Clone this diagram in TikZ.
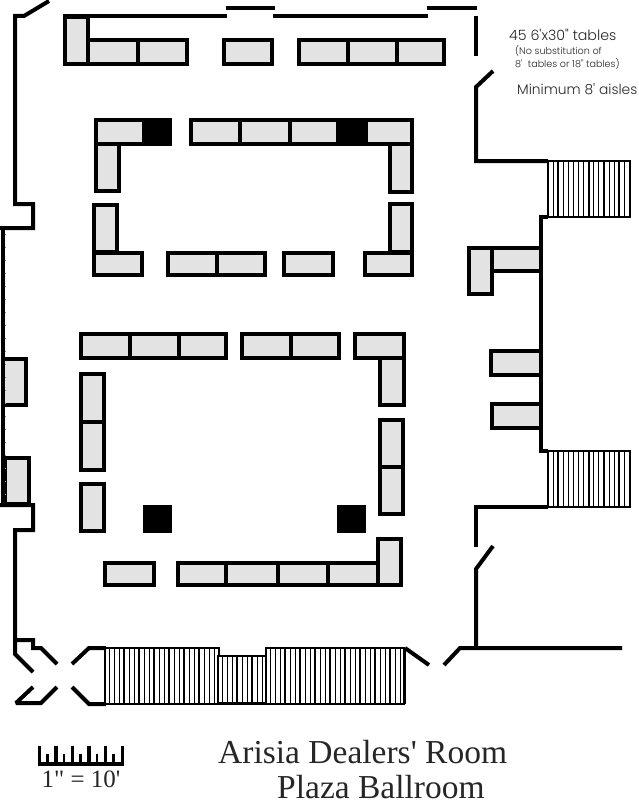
\documentclass[tikz,border=0pt]{standalone}
\usepackage{fontspec}
\newfontfamily\ser{Liberation Serif}
\newfontfamily\geo[UprightFont=* Light]{Poppins}
\tikzset{
  tbl/.style={draw=black,line width=4.2pt,fill=tablegray,line join=miter},
  pillar/.style={fill=black},
  wall/.style={draw=black,line width=4pt,line join=miter,miter limit=2,line cap=butt},
  thinwall/.style={draw=black,line width=2pt},
  tread/.style={draw=black,line width=1pt},
  title/.style={text=black!85,font=\ser\fontsize{33.5}{33.5}\selectfont,inner sep=0pt,anchor=base west},
  note/.style={text=black!85,inner sep=0pt,anchor=west},
}
\definecolor{tablegray}{HTML}{E3E3E3}
\begin{document}
\begin{tikzpicture}[x=1pt,y=-1pt]
\useasboundingbox (0,0) rectangle (639,800);
% tables
\foreach \a/\b/\c/\d in {
  65/17/88/64, 88/40/138/64, 138/40/187/64, 224/40/272/64, 299/40/348/64, 348/40/397/64, 397/40/444/64,
  96/120/144/144, 191/120/240/144, 240/120/290/144, 290/120/338/144, 366/120/412/144,
  96/144/119/191, 390/144/412/192, 94/205/117/252, 390/204/412/252,
  94/253/142/275, 168/253/217/275, 217/253/265/275, 284/253/333/275, 365/253/412/275,
  469/248/492/294, 492/248/541/271, 491/351/541/375, 492/404/541/428,
  81/334/130/358, 130/334/179/358, 179/334/226/358, 242/334/291/358, 291/334/339/358, 355/334/404/358,
  380/358/404/405, 380/420/403/467, 380/467/403/514,
  81/374/104/422, 81/422/104/470, 81/484/104/531,
  3/359/26/405, 5/458/29/504,
  105/563/154/585, 178/563/226/585, 226/563/278/585, 278/563/328/585, 328/563/378/585, 378/539/401/585}
  \draw[tbl] (\a,\b) rectangle (\c,\d);
% pillars
\foreach \a/\b in {143/118, 338/118, 143/505, 337/505}
  \fill[pillar] (\a,\b) rectangle ++(29,28);
% walls
\draw[wall] (49,1) -- (24,16) -- (15,16) -- (15,204) -- (33,204) -- (33,228) -- (0,228);
\draw[wall] (0,505) -- (33,505) -- (33,530) -- (15,530) -- (15,654) -- (33,672);
\draw[wall] (15,640) -- (33,640) -- (33,648) -- (41,648) -- (57,664);
\draw[wall] (33,687) -- (16,703) -- (41,703) -- (57,687);
\draw[wall] (72,664) -- (89,648) -- (106,648);
\draw[wall] (72,687) -- (89,704) -- (106,704);
\draw[wall] (63,16) -- (227,16);
\draw[wall] (226,8) -- (275,8);
\draw[wall] (273,16) -- (428,16);
\draw[wall] (427,8) -- (477,8);
\draw[wall] (476,16) -- (476,56);
\draw[wall] (493,71) -- (476,87) -- (476,161) -- (548,161);
\draw[wall] (548,217) -- (541,217) -- (541,451) -- (548,451);
\draw[wall] (548,507) -- (476,507) -- (476,547);
\draw[wall] (493,546) -- (476,569) -- (476,648);
\draw[wall] (622,648) -- (460,648) -- (444,665);
\draw[wall] (405,648) -- (429,665);
% left edge
\draw[wall] (3,228) -- (3,505);
\foreach \y in {234,247,...,500} \draw[draw=black!45,line width=.7pt] (5,\y) -- (6,\y);
% right stairs
\foreach \t/\b in {161/217, 451/507}{
  \draw[thinwall] (548,\t) -- (630,\t) -- (630,\b) -- (548,\b) -- cycle;
  \foreach \n in {0,...,15}
    \draw[tread,line width={\n==1||\n==4||\n==7||\n==10||\n==13 ? 1.7pt : 1pt}] ({553+5.1*\n},\t) -- ({553+5.1*\n},\b);
}
% bottom stairs
\draw[thinwall] (105,648) -- (219,648) -- (219,656) -- (266,656) -- (266,648) -- (404,648) -- (404,704) -- (105,704) -- cycle;
\foreach \n in {0,...,21}
  \draw[tread,line width={\n==3||\n==6||\n==9||\n==12||\n==15||\n==18 ? 1.7pt : 1pt}] ({109+5*\n},649) -- ({109+5*\n},703);
\foreach \n in {0,...,8}
  \draw[tread,line width={\n==3||\n==6 ? 1.7pt : 1pt}] ({222+5*\n},657) -- ({222+5*\n},703);
\foreach \n in {0,...,26}
  \draw[tread,line width={\n==3||\n==6||\n==9||\n==12||\n==15||\n==18||\n==21||\n==24 ? 1.7pt : 1pt}] ({270+5*\n},649) -- ({270+5*\n},703);
\draw[thinwall] (218,656) rectangle (266,703);
\draw[line width=3pt] (218,703) -- (266,703);
\draw[line width=3pt] (404.5,648) -- (404.5,704);
% scale bar
\draw[line width=3.6pt] (38,764) -- (124,764);
\foreach \n in {0,...,5} \draw[line width=3.4pt] ({39.5+16.55*\n},746) -- ({39.5+16.55*\n},764);
\foreach \n in {0,...,4} \draw[line width=2.6pt] ({47.5+16.55*\n},754) -- ({47.5+16.55*\n},764);
\node[anchor=base,inner sep=0pt,text=black!85,font=\ser\fontsize{25}{25}\selectfont] (sc) at (81,787) {1" = 10'};
% titles
\node[title] (t1) at (218,763) {Arisia Dealers' Room};
\node[title] (t2) at (277,798) {Plaza Ballroom};
% notes
\node[note,font=\geo\fontsize{14.2}{14.2}\selectfont] (n1) at (509,35) {45 6'x30" tables};
\node[note,font=\geo\fontsize{9.6}{9.6}\selectfont] (n2) at (515,51) {(No substitution of};
\node[note,font=\geo\fontsize{9.6}{9.6}\selectfont] (n3) at (515,64) {8' \ tables or 18" tables)};
\node[note,font=\geo\fontsize{13.8}{13.8}\selectfont] (n4) at (517,89) {Minimum 8' aisles};
\end{tikzpicture}
\end{document}
